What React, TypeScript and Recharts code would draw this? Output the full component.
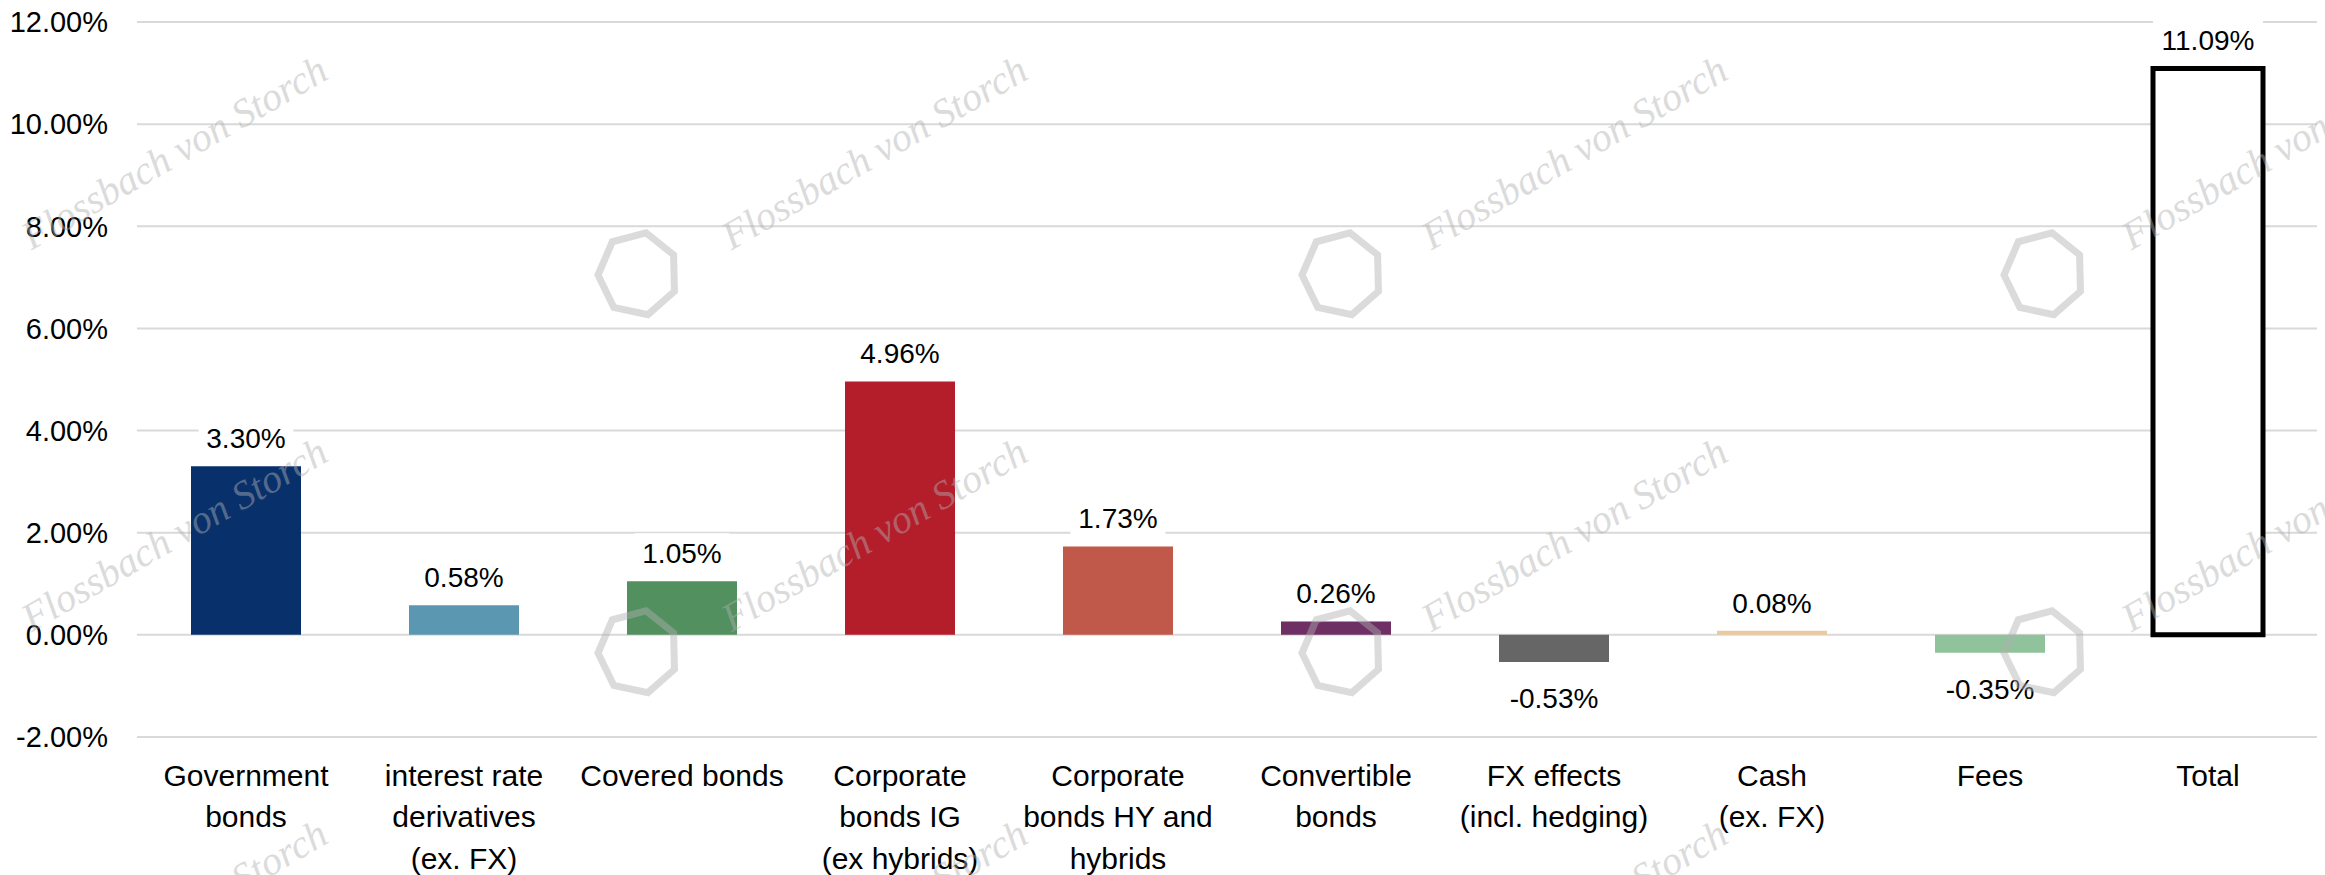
import React from 'react';
import { BarChart, Bar, XAxis, YAxis, CartesianGrid, Cell, LabelList } from 'recharts';

const categories = [
  'Government\nbonds',
  'interest rate\nderivatives\n(ex. FX)',
  'Covered bonds',
  'Corporate\nbonds IG\n(ex hybrids)',
  'Corporate\nbonds HY and\nhybrids',
  'Convertible\nbonds',
  'FX effects\n(incl. hedging)',
  'Cash\n(ex. FX)',
  'Fees',
  'Total',
];
const contributions = [3.3, 0.58, 1.05, 4.96, 1.73, 0.26, -0.53, 0.08, -0.35, 11.09];
const barColors = ['#08306b', '#5b97b1', '#52905f', '#b41e2b', '#c0594a', '#6d2f64', '#666666', '#ebc99e', '#90c39b', '#ffffff'];
const yTicks = [-2, 0, 2, 4, 6, 8, 10, 12];

const data = categories.map((name, i) => ({ name, value: contributions[i] }));

const FONT = '"Liberation Sans", Arial, sans-serif';

function CategoryTick(props: any) {
  const { x, y, payload } = props;
  const lines = String(payload.value).split('\n');
  return (
    <text x={x} y={y} textAnchor="middle" fontSize={30} fill="#000" fontFamily={FONT}>
      {lines.map((line, i) => (
        <tspan key={i} x={x} y={y + 38 + i * 41.5} dy="0.35em">{line}</tspan>
      ))}
    </text>
  );
}

function ValueLabel(props: any) {
  const vb = props.viewBox ?? props;
  const { x, y, width, height } = vb;
  const value = Number(props.value);
  const cx = x + width / 2;
  const top = Math.min(y, y + height);
  const bottom = Math.max(y, y + height);
  const ty = value >= 0 ? top - 28 : bottom + 36;
  const text = `${value.toFixed(2)}%`;
  const w = text.length * 15 + 20;
  return (
    <g>
      <rect x={cx - w / 2} y={ty - 20} width={w} height={40} fill="#fff" />
      <text x={cx} y={ty} dy="0.35em" textAnchor="middle" fontSize={28} fill="#000" fontFamily={FONT}>{text}</text>
    </g>
  );
}

// watermark (Flossbach von Storch) - purely decorative
function Watermark() {
  const textSpots: [number, number][] = [];
  for (const cy of [152, 534, 916]) for (const cx of [174, 874, 1574, 2274]) textSpots.push([cx, cy]);
  const logoSpots: [number, number][] = [];
  for (const cy of [274, 652]) for (const cx of [638, 1342, 2044]) logoSpots.push([cx, cy]);
  const hept = Array.from({ length: 7 }, (_, k) => {
    const a = (k / 7) * Math.PI * 2 - Math.PI / 2 + 0.2;
    return `${Math.cos(a) * 40},${Math.sin(a) * 42}`;
  }).join(' ');
  return (
    <svg width={2325} height={875} style={{ position: 'absolute', left: 0, top: 0, pointerEvents: 'none' }}>
      {textSpots.map(([cx, cy], i) => (
        <text key={i} x={cx} y={cy} transform={`rotate(-30 ${cx} ${cy})`} textAnchor="middle" dy="0.35em"
          fontFamily='"Liberation Serif", serif' fontStyle="italic" fontSize={40} fill="#b0b0b0" opacity={0.45}>
          Flossbach von Storch
        </text>
      ))}
      {logoSpots.map(([cx, cy], i) => (
        <polygon key={i} points={hept} transform={`translate(${cx} ${cy})`} fill="none" stroke="#b0b0b0" strokeWidth={7} opacity={0.45} />
      ))}
    </svg>
  );
}

export default function App() {
  return (
    <div style={{ position: 'relative', width: 2325, height: 875, background: '#fff' }}>
      <style>{'body{margin:0}'}</style>
      <BarChart width={2325} height={875} data={data} margin={{ top: 22, right: 8, left: 0, bottom: 0 }}>
        <CartesianGrid horizontal vertical={false} stroke="#d9d9d9" strokeWidth={2} />
        <XAxis dataKey="name" axisLine={false} tickLine={false} tickSize={0} tickMargin={0} height={138} interval={0} tick={<CategoryTick />} />
        <YAxis
          domain={[-2, 12]}
          ticks={yTicks}
          width={137}
          axisLine={false}
          tickLine={false}
          tickSize={0}
          tickMargin={29}
          tickFormatter={(v: number) => `${v.toFixed(2)}%`}
          tick={{ fill: '#000', fontSize: 29, fontFamily: FONT }}
        />
        <Bar dataKey="value" barSize={110} isAnimationActive={false}>
          {data.map((d, i) => (
            <Cell key={i} fill={barColors[i]} stroke={d.name === 'Total' ? '#000' : 'none'} strokeWidth={d.name === 'Total' ? 5 : 0} />
          ))}
          <LabelList dataKey="value" content={<ValueLabel />} />
        </Bar>
      </BarChart>
      <Watermark />
    </div>
  );
}
